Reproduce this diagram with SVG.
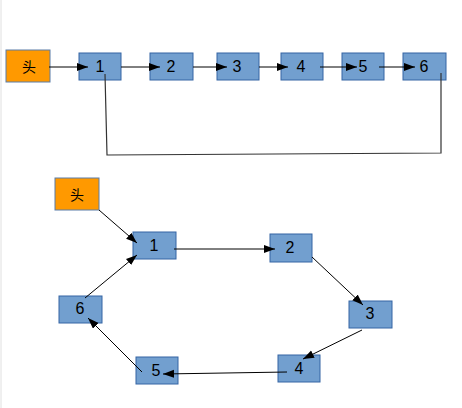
<svg xmlns="http://www.w3.org/2000/svg" width="462" height="408" viewBox="0 0 462 408">
<style>
.n{fill:#729fcf;stroke:#3465a4;stroke-width:1}
.h{fill:#ff9900;stroke:#5a7ca8;stroke-width:1}
.t{font-family:"Liberation Sans",Arial,sans-serif;font-size:16px;fill:#000;text-anchor:middle}
.c{font-family:"Noto Sans CJK SC","Noto Sans",sans-serif;font-size:14px;fill:#000;text-anchor:middle}
.e{fill:none;stroke:#000;stroke-width:1}
.l{fill:none;stroke:#333;stroke-width:1.2}
</style>
<defs>
<marker id="a" markerUnits="userSpaceOnUse" markerWidth="12" markerHeight="10" refX="11" refY="4" orient="auto">
<path d="M0,0 L11,4 L0,8 Z" fill="#000"/>
</marker>
</defs>
<rect width="462" height="408" fill="#fff"/>
<line x1="1" y1="0" x2="1" y2="408" stroke="#e0e0e0" stroke-width="1"/>
<g id="top-head"><rect class="h" x="6" y="50" width="44" height="32"/><text class="c" x="29" y="72">头</text></g>
<g id="top-1"><rect class="n" x="79" y="53" width="42" height="27"/><text class="t" x="100" y="72">1</text></g>
<g id="top-2"><rect class="n" x="150" y="53" width="43" height="27"/><text class="t" x="171" y="72">2</text></g>
<g id="top-3"><rect class="n" x="217" y="53" width="42" height="27"/><text class="t" x="237" y="72">3</text></g>
<g id="top-4"><rect class="n" x="281" y="53" width="42" height="27"/><text class="t" x="301" y="72">4</text></g>
<g id="top-5"><rect class="n" x="342" y="53" width="42" height="27"/><text class="t" x="363" y="72">5</text></g>
<g id="top-6"><rect class="n" x="403" y="53" width="43" height="27"/><text class="t" x="424" y="72">6</text></g>
<g id="bot-head"><rect class="h" x="55" y="178" width="44" height="32"/><text class="c" x="77" y="200">头</text></g>
<g id="bot-1"><rect class="n" x="133" y="232" width="43" height="27"/><text class="t" x="154" y="251">1</text></g>
<g id="bot-2"><rect class="n" x="270" y="234" width="42" height="28"/><text class="t" x="290" y="253">2</text></g>
<g id="bot-3"><rect class="n" x="349" y="301" width="43" height="27"/><text class="t" x="370" y="319">3</text></g>
<g id="bot-4"><rect class="n" x="278" y="355" width="42" height="27"/><text class="t" x="299" y="374">4</text></g>
<g id="bot-5"><rect class="n" x="136" y="357" width="42" height="27"/><text class="t" x="156" y="376">5</text></g>
<g id="bot-6"><rect class="n" x="59" y="296" width="43" height="27"/><text class="t" x="80" y="314">6</text></g>
<g id="connectors">
<line class="e" x1="49" y1="67" x2="88" y2="67" marker-end="url(#a)"/>
<line class="e" x1="121" y1="67" x2="160" y2="67" marker-end="url(#a)"/>
<line class="e" x1="193" y1="67" x2="227" y2="67" marker-end="url(#a)"/>
<line class="e" x1="259" y1="67" x2="288" y2="67" marker-end="url(#a)"/>
<line class="e" x1="320" y1="67" x2="357" y2="67" marker-end="url(#a)"/>
<line class="e" x1="379" y1="67" x2="415" y2="67" marker-end="url(#a)"/>
<polyline class="l" points="441,73 441,153 107,155 105,74"/>
<line class="e" x1="99" y1="210" x2="137" y2="243" marker-end="url(#a)"/>
<line class="e" x1="174" y1="249" x2="275" y2="249" marker-end="url(#a)"/>
<line class="e" x1="312" y1="257" x2="363" y2="305" marker-end="url(#a)"/>
<line class="e" x1="362" y1="330" x2="303" y2="359" marker-end="url(#a)"/>
<line class="e" x1="287" y1="372" x2="163" y2="374" marker-end="url(#a)"/>
<line class="e" x1="142" y1="372" x2="88" y2="318" marker-end="url(#a)"/>
<line class="e" x1="85" y1="298" x2="137" y2="255" marker-end="url(#a)"/>
</g>
</svg>
